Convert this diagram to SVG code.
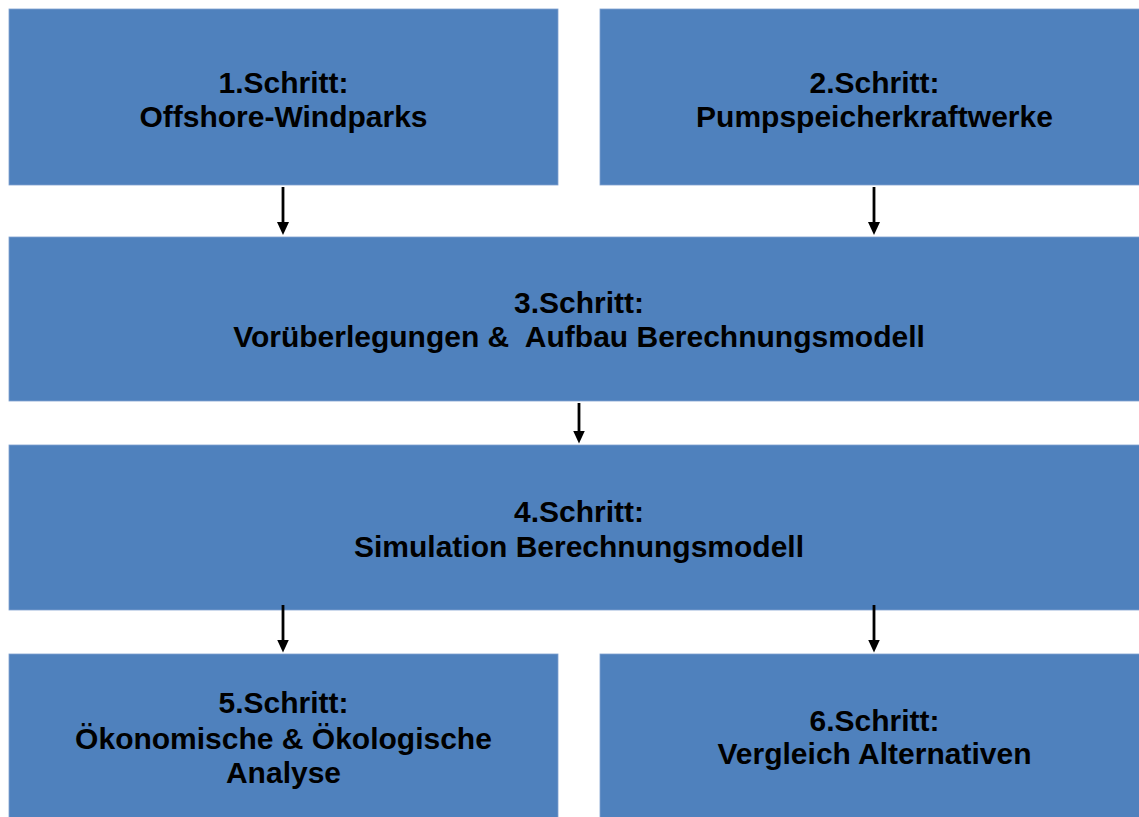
<svg xmlns="http://www.w3.org/2000/svg" width="1139" height="817" viewBox="0 0 1139 817">
<defs>
<style>
.box{fill:#4F81BD;stroke:#7FA1CF;stroke-width:0.8}
.t{font-family:"Liberation Sans",Arial,sans-serif;font-weight:bold;font-size:30px;fill:#000;text-anchor:middle}
.c{stroke:#000;stroke-width:2.8;fill:none;marker-end:url(#ah)}
</style>
<marker id="ah" markerUnits="userSpaceOnUse" markerWidth="13" markerHeight="12" refX="2" refY="6" orient="auto" viewBox="0 0 13 12">
<path d="M0,0 L13,6 L0,12 Z" fill="#000"/>
</marker>
</defs>
<rect x="0" y="0" width="1139" height="817" fill="#fff"/>
<g id="step1">
<rect class="box" x="9" y="9" width="549" height="176"/>
<text class="t" x="283.5" y="93">1.Schritt:</text>
<text class="t" x="283.5" y="127">Offshore-Windparks</text>
</g>
<g id="step2">
<rect class="box" x="600" y="9" width="549" height="176"/>
<text class="t" x="874.5" y="93">2.Schritt:</text>
<text class="t" x="874.5" y="127">Pumpspeicherkraftwerke</text>
</g>
<g id="step3">
<rect class="box" x="9" y="237" width="1140" height="164"/>
<text class="t" x="579" y="313">3.Schritt:</text>
<text class="t" x="579" y="347" xml:space="preserve">Vorüberlegungen &amp;  Aufbau Berechnungsmodell</text>
</g>
<g id="step4">
<rect class="box" x="9" y="445" width="1140" height="165"/>
<text class="t" x="579" y="522">4.Schritt:</text>
<text class="t" x="579" y="557">Simulation Berechnungsmodell</text>
</g>
<g id="step5">
<rect class="box" x="9" y="654" width="549" height="170"/>
<text class="t" x="283.5" y="713">5.Schritt:</text>
<text class="t" x="283.5" y="749">Ökonomische &amp; Ökologische</text>
<text class="t" x="283.5" y="783">Analyse</text>
</g>
<g id="step6">
<rect class="box" x="600" y="654" width="549" height="170"/>
<text class="t" x="874.5" y="731">6.Schritt:</text>
<text class="t" x="874.5" y="764">Vergleich Alternativen</text>
</g>
<g id="connectors">
<line class="c" x1="283" y1="187" x2="283" y2="224"/>
<line class="c" x1="874" y1="187" x2="874" y2="224"/>
<line class="c" x1="579" y1="403" x2="579" y2="432.5"/>
<line class="c" x1="283" y1="605" x2="283" y2="641.5"/>
<line class="c" x1="874" y1="605" x2="874" y2="641.5"/>
</g>
</svg>
